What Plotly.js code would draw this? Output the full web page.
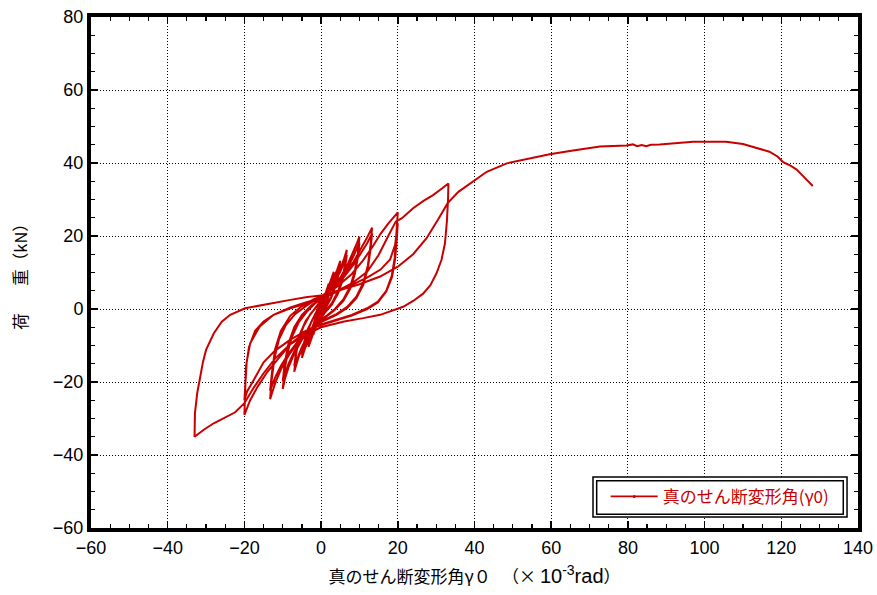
<!DOCTYPE html>
<html>
<head>
<meta charset="utf-8">
<script src="https://cdn.plot.ly/plotly-3.0.1.min.js"></script>
<style>
  html, body { margin: 0; padding: 0; background: #fff; }
  #chart { width: 877px; height: 595px; }
</style>
</head>
<body>
<div id="chart"></div>
<script>
// Cyclic loading record: true shear deformation angle γ0 (×10^-3 rad) vs load (kN).
// Each stage is a list of [γ0, load] pairs, in loading order.

const stageR1 = [
  [0,0],[0.5,2.1],[1,4.0],
  [0.7,2.8],[0.3,1.0],[0,0.0],[-0.5,-2.0],[-1,-4.0],
  [-0.7,-2.8],[-0.3,-1.0],[0,0.2],[0.5,2.0],[1,3.8],
  [0.7,2.6],[0,-0.2],[-0.5,-2.0],[-1,-3.8]
];

const stageR2 = [
  [-0.6,-2.2],[0,0.3],[0.8,3.2],[1.5,5.4],[2,7.0],
  [1.6,5.0],[1.0,2.6],[0,-0.6],[-1,-3.6],[-1.6,-5.6],[-2,-7.0],
  [-1.6,-4.9],[-1,-2.5],[0,0.6],[1,3.4],[1.6,5.3],[2,6.6],
  [1.6,4.6],[1,2.3],[0,-0.8],[-1,-3.5],[-1.6,-5.4],[-2,-6.7]
];

const stageR3 = [
  [-1.5,-4.2],[-0.8,-2.0],[0,0.8],[1,3.5],[2,6.3],[2.8,8.6],[3.3,10.2],
  [2.9,7.8],[2.2,4.6],[1.2,1.4],[0,-1.2],[-1,-3.8],[-2,-6.6],[-2.8,-8.7],[-3.3,-10.4],
  [-2.9,-7.9],[-2.2,-4.8],[-1.2,-1.6],[0,1.2],[1,3.6],[2,6.2],[2.8,8.4],[3.3,9.8],
  [2.9,7.4],[2.2,4.3],[1.2,1.2],[0,-1.4],[-1,-3.8],[-2,-6.5],[-2.8,-8.5],[-3.3,-9.9]
];

const stageR5 = [
  [-2.8,-7.2],[-2,-4.2],[-1,-1.2],[0,1.5],[1.5,4.5],[3,7.8],[4.2,10.8],[5,13.2],
  [4.6,10.2],[3.8,6.8],[2.6,3.4],[1.2,0.6],[0,-1.8],[-1.5,-4.6],[-3,-7.9],[-4.2,-10.8],[-5,-13.4],
  [-4.6,-10.4],[-3.8,-7.0],[-2.6,-3.6],[-1.2,-0.8],[0,1.8],[1.5,4.4],[3,7.4],[4.2,10.2],[5,12.4],
  [4.6,9.6],[3.8,6.4],[2.6,3.0],[1.2,0.3],[0,-2.0],[-1.5,-4.6],[-3,-7.6],[-4.2,-10.4],[-5,-12.6]
];

const stageR7 = [
  [-4.5,-9.4],[-3.5,-5.6],[-2,-2.4],[0,1.8],[2,5.0],[3.5,7.8],[5,11.0],[6,13.8],[6.7,16.2],
  [6.3,12.6],[5.6,8.6],[4.4,4.8],[2.8,1.6],[1,-0.8],[0,-2.2],[-2,-4.8],[-3.5,-7.6],[-5,-10.8],[-6,-13.6],[-7,-17.2],
  [-6.6,-13.0],[-5.9,-8.8],[-4.6,-4.8],[-2.8,-1.4],[-1,0.8],[0,2.2],[2,4.6],[3.5,7.2],[5,10.2],[6,12.8],[6.7,14.8],
  [6.3,11.6],[5.6,7.8],[4.4,4.2],[2.8,1.2],[1,-1.0],[0,-2.4],[-2,-4.8],[-3.5,-7.4],[-5,-10.4],[-6,-13.0],[-7,-15.6]
];

const stageR10 = [
  [-6.5,-11.6],[-5.5,-6.8],[-4,-3.2],[-2,-0.4],[0,2.4],[2.5,5.2],[5,8.6],[7,12.4],[8.5,15.8],[9.4,18.2],[10,19.8],
  [9.6,15.4],[8.8,10.4],[7.6,6.2],[5.8,2.6],[3.6,0],[1.5,-1.8],[0,-2.8],[-2.5,-5.2],[-5,-8.4],[-7,-12.2],[-8.5,-16.0],[-9.4,-19.0],[-10,-21.9],
  [-9.6,-17.4],[-8.8,-12.2],[-7.6,-7.6],[-5.8,-3.6],[-3.6,-0.6],[-1.5,1.6],[0,2.8],[2.5,5.0],[5,8.0],[7,11.4],[8.5,14.6],[9.4,16.8],[10,18.2],
  [9.6,14.2],[8.8,9.6],[7.6,5.6],[5.8,2.2],[3.6,-0.2],[1.5,-2.0],[0,-3.0],[-2.5,-5.2],[-5,-8.0],[-7,-11.6],[-8.5,-15.0],[-9.4,-17.6],[-10,-19.8]
];

const stageR13 = [
  [-9.5,-15.0],[-8.5,-9.4],[-7,-5.0],[-5,-1.6],[-2.5,1.0],[0,3.0],[3,5.8],[6,9.4],[8.5,13.0],[10.5,16.6],[12,19.6],[13.3,22.3],
  [12.9,17.6],[12.2,12.0],[11,7.2],[9.2,3.4],[6.8,0.6],[4,-1.4],[1,-3.0],[0,-3.4],[-3,-5.6],[-6,-9.0],[-8.5,-12.8],[-10.5,-16.6],[-12,-20.4],[-13.3,-24.7],
  [-12.9,-19.6],[-12.2,-13.6],[-11,-8.4],[-9.2,-4.4],[-6.8,-1.4],[-4,0.8],[-1,2.8],[0,3.3],[3,5.6],[6,8.8],[8.5,12.2],[10.5,15.4],[12,18.0],[13.3,20.7],
  [12.9,16.4],[12.2,11.2],[11,6.6],[9.2,3.0],[6.8,0.3],[4,-1.6],[1,-3.2],[0,-3.6],[-3,-5.6],[-6,-8.8],[-8.5,-12.2],[-10.5,-15.6],[-12,-18.8],[-13.3,-22.4]
];

const stageR20 = [
  [-12.8,-17.2],[-12,-11.0],[-10.5,-6.0],[-8,-1.8],[-5,0.8],[-2,2.6],[0,3.5],[4,6.0],[8,9.6],[11,13.4],[13.5,17.2],[15.5,20.6],[17.5,23.4],[20,26.5],
  [19.6,20.2],[19.2,14.0],[18.4,9.0],[17,5.0],[14.8,2.0],[12,0.2],[8,-1.6],[4,-3.0],[0,-4.2],[-4,-6.2],[-8,-9.6],[-11,-13.4],[-14,-17.2],[-16.5,-21.2],[-18.5,-25.0],[-20,-29.0],
  [-19.8,-22.0],[-19.6,-16.0],[-18.8,-10.4],[-17.2,-6.0],[-15,-3.4],[-12.4,-1.6],[-8,0.2],[-4,1.6],[0,2.8],[4,4.6],[8,6.6],[12,8.6],[15.5,10.8],[18,13.6],[19.3,17.6],[19.8,21.0],[20,23.5],
  [19.7,18.6],[19.3,13.6],[18.5,8.8],[17,4.8],[14.8,1.8],[12,0.0],[8,-1.8],[4,-3.0],[0,-4.4],[-4,-6.0],[-8,-8.4],[-12,-11.4],[-15,-14.6],[-17.6,-19.5],[-19.3,-22.6],[-20,-25.0]
];

const stageR33 = [
  [-19.8,-20.5],[-19.4,-14.5],[-18.5,-9.4],[-16,-4.8],[-12.4,-1.6],[-8,0.4],[-4,1.8],[0,3.0],[4,4.8],[8,7.0],[12,10.2],[15,14.8],[17.5,20.0],[19.5,24.0],[21,24.8],[24,27.6],[26.7,29.6],[29.2,31.2],[31.5,33.0],[33.2,34.4],
  [33.1,30.0],[32.8,24.0],[32.3,18.0],[31.4,13.5],[30.1,9.8],[28.5,6.5],[26.6,4.2],[24,2.2],[21.4,0.6],[18,-0.6],[15.4,-1.6],[11,-2.5],[6,-3.4],[2.3,-4.4],[0,-5.0],[-4,-7.0],[-8,-9.6],[-12,-13.6],[-15,-17.6],[-17.6,-21.6],[-20,-25.8],[-22.4,-28.3],[-25,-29.8],[-28,-31.3],[-30.5,-33.0],[-33,-35.0],
  [-32.9,-28.6],[-32.3,-23.0],[-31.5,-18.5],[-30.8,-14.5],[-30,-11.2],[-28,-6.7],[-25.9,-3.5],[-23.7,-1.6],[-19.8,0.2],[-14,1.4],[-8,2.5],[-4,3.2],[0.5,3.8]
];

// final monotonic push to failure
const stageFinal = [
  [5,5.2],[10,6.8],[15.4,8.9],[20,11.6],[24,15.0],[27.5,19.4],[30.5,24.5],[33,29.0],[35.8,32.1],[39.7,34.9],[43.2,37.6],
  [48.4,39.9],[53.6,41.0],[59.6,42.4],[65.7,43.4],[72.7,44.5],[79.6,44.8],[81.3,45.1],[82.4,44.6],[83.6,44.9],[84.8,44.6],
  [86,45.0],[88.3,45.1],[92.6,45.4],[97,45.8],[101,45.8],[105.6,45.8],[110,45.2],[114.3,44.0],[116.9,43.1],[119,41.8],
  [120.5,40.2],[122.5,39.2],[124,38.2],[125.5,36.6],[126.9,35.0],[128.2,33.7]
];

const seriesName = '真のせん断変形角(γ0)';
const xTitle = '真のせん断変形角γ０\u00a0\u00a0\u00a0（×\u00a0<span style="font-family:Liberation Sans;font-size:20px">10<sup>-3</sup>rad</span>）';
const yTitle = '荷　\u00a0\u00a0\u00a0重（kN）';

const path = [].concat(stageR1, stageR2, stageR3, stageR5, stageR7, stageR10, stageR13, stageR20, stageR33, stageFinal);
const gamma = path.map(p => p[0]);
const load = path.map(p => p[1]);

const red = '#c80000';
const numFont = 'Liberation Sans, Arial, Noto Sans CJK JP, sans-serif';
const jpFont = 'Noto Sans CJK JP, Liberation Sans, sans-serif';

const traces = [
  {
    x: gamma, y: load, type: 'scatter', mode: 'lines',
    line: {color: red, width: 2}, showlegend: false, hoverinfo: 'skip'
  },
  {
    // legend key: line with a small marker in the middle
    x: [null], y: [null], type: 'scatter', mode: 'lines+markers',
    name: seriesName, line: {color: red, width: 1.6},
    marker: {color: red, size: 3}, showlegend: true
  }
];

const axisCommon = {
  ticks: 'inside', ticklen: 7, tickwidth: 1.5, tickcolor: '#000',
  minor: {dtick: 5, ticks: 'inside', ticklen: 4, tickwidth: 1.2, tickcolor: '#000', showgrid: false},
  showline: true, linewidth: 4, linecolor: '#000', mirror: 'allticks',
  showgrid: true, gridcolor: '#000', gridwidth: 1, griddash: '1px,2px',
  zeroline: false, tickfont: {family: numFont, size: 18, color: '#000'}
};

const layout = {
  width: 877, height: 595,
  margin: {l: 91, r: 19, t: 17, b: 67},
  paper_bgcolor: '#fff', plot_bgcolor: '#fff',
  font: {family: numFont, size: 16, color: '#000'},
  xaxis: Object.assign({}, axisCommon, {
    range: [-60, 140], dtick: 20, tick0: 0,
    title: {text: xTitle, font: {family: jpFont, size: 17, color: '#000'}, standoff: 16}
  }),
  yaxis: Object.assign({}, axisCommon, {
    range: [-60, 80], dtick: 20, tick0: 0,
    title: {text: yTitle, font: {family: jpFont, size: 16.5, color: '#000'}, standoff: 22}
  }),
  legend: {
    x: 0.671, y: 0.061, xanchor: 'left', yanchor: 'middle',
    bgcolor: 'rgba(0,0,0,0)', borderwidth: 0, itemwidth: 47,
    font: {family: jpFont, size: 17, color: red}
  },
  shapes: [
    {type: 'rect', xref: 'paper', yref: 'paper', x0: 0.6545, x1: 0.9857, y0: 0.0215, y1: 0.0998,
     line: {color: '#000', width: 1.5}, fillcolor: '#fff', layer: 'above'},
    {type: 'rect', xref: 'paper', yref: 'paper', x0: 0.6593, x1: 0.9808, y0: 0.0268, y1: 0.0926,
     line: {color: '#000', width: 1.5}, fillcolor: 'rgba(0,0,0,0)', layer: 'above'}
  ]
};

Plotly.newPlot('chart', traces, layout, {displayModeBar: false, staticPlot: true});
</script>
</body>
</html>
